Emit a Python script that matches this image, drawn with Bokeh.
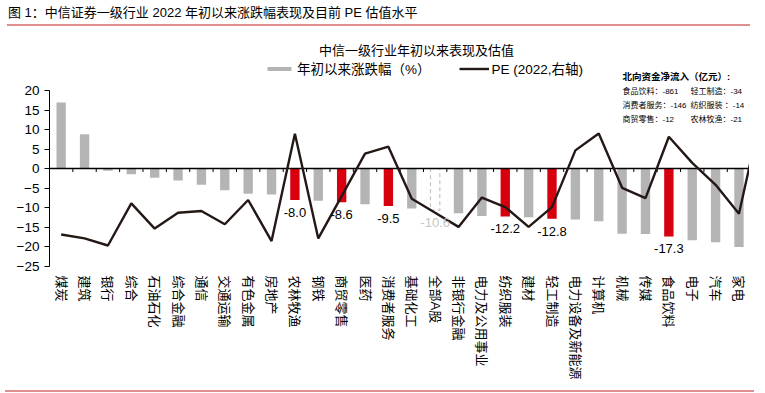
import math
import numpy as np
from bokeh.plotting import figure
from bokeh.models import (Range1d, FixedTicker, Label, Legend, LegendItem, Div,
                          ColumnDataSource)
from bokeh.layouts import column
from bokeh.core.properties import value
from bokeh.embed import file_html
from bokeh.resources import INLINE

# ---------------- data ----------------
categories = ["煤炭", "建筑", "银行", "综合", "石油石化", "综合金融", "通信", "交通运输",
              "有色金属", "房地产", "农林牧渔", "钢铁", "商贸零售", "医药", "消费者服务",
              "基础化工", "全部A股", "非银行金融", "电力及公用事业", "纺织服装", "建材",
              "轻工制造", "电力设备及新能源", "计算机", "机械", "传媒", "食品饮料", "电子",
              "汽车", "家电", "国防军工"]
# YTD change (%) -- the last category is cut off at the right edge of the picture
returns = [16.9, 8.8, -0.5, -1.4, -2.3, -3.0, -4.1, -5.5, -6.4, -6.6, -8.0, -8.2, -8.6,
           -9.1, -9.5, -10.2, -10.6, -11.4, -12.1, -12.2, -12.4, -12.8, -13.0, -13.4,
           -16.6, -16.7, -17.3, -18.3, -18.8, -20.0]
# PE (2022, right axis, hidden)
pe = [8.1, 6.5, 3.6, 20.8, 10.5, 17.0, 17.7, 12.3, 22.2, 5.4, 49.3, 6.5, 23.8, 41.2,
      44.0, 22.7, 17.0, 11.2, 23.2, 19.3, 11.2, 19.3, 42.5, 49.4, 27.2, 23.0, 48.1,
      37.4, 28.4, 16.6, 59.8]
highlighted = ["农林牧渔", "商贸零售", "消费者服务", "纺织服装", "轻工制造", "食品饮料"]
benchmark = "全部A股"
y_ticks = [-25, -20, -15, -10, -5, 0, 5, 10, 15, 20]

north_title = "北向资金净流入（亿元）:"
north_left_names = ["食品饮料", "消费者服务", "商贸零售"]
north_left_values = [-861, -146, -12]
north_right_names = ["轻工制造", "纺织服装 ", "农林牧渔"]
north_right_values = [-34, -14, -21]

header_text = "图 1：中信证券一级行业 2022 年初以来涨跌幅表现及目前 PE 估值水平"
chart_title = "中信一级行业年初以来表现及估值"
legend_bar = "年初以来涨跌幅（%）"
legend_line = "PE (2022,右轴)"

# ---------------- styles / layout ----------------
FONT = "Liberation Sans, Arial, Noto Sans CJK SC"
GRAY = "#b4b4b4"
RED = "#d7000f"
LINE = "#231815"
RULE = "#e08e8e"

FIG_H = 354
BORDER_BOTTOM = 119
PX_PER_UNIT = 176 / 45.0          # left-axis scale in pixels
FRAME_H = FIG_H - BORDER_BOTTOM   # frame reaches the top of the figure
y_top = y_ticks[0] + FRAME_H / PX_PER_UNIT
PE_LOW, PE_PER_UNIT = -5.0, 1.6   # hidden right axis: pe = PE_LOW + PE_PER_UNIT*(y - y_min)
pe_top = PE_LOW + PE_PER_UNIT * (y_top - y_ticks[0])

idx = list(range(len(categories)))
bar_idx = idx[:len(returns)]

def pick(cond):
    return [i for i in bar_idx if cond(categories[i])]

g_i = pick(lambda c: c not in highlighted and c != benchmark)
r_i = pick(lambda c: c in highlighted)
b_i = pick(lambda c: c == benchmark)

gray_src = ColumnDataSource(dict(x=g_i, top=[returns[i] for i in g_i]))
red_src = ColumnDataSource(dict(x=r_i, top=[returns[i] for i in r_i],
                                label=["%.1f" % returns[i] for i in r_i]))
bm_src = ColumnDataSource(dict(x=b_i, top=[returns[i] for i in b_i],
                               label=["%.1f" % returns[i] for i in b_i]))
pe_src = ColumnDataSource(dict(x=idx, pe=pe))
tick_src = ColumnDataSource(dict(x=[i + 0.5 for i in bar_idx]))

p = figure(width=749, height=FIG_H, output_backend="svg", toolbar_location=None,
           x_range=Range1d(-0.5, 29.45), y_range=Range1d(y_ticks[0], y_top),
           min_border_left=49, min_border_right=0, min_border_top=0,
           min_border_bottom=BORDER_BOTTOM)
p.extra_y_ranges = {"pe": Range1d(PE_LOW, pe_top)}
p.outline_line_color = None
p.grid.visible = False
p.background_fill_color = "white"
p.border_fill_color = "white"

# bars
r_gray = p.vbar(x="x", top="top", bottom=0, width=0.4, source=gray_src,
                fill_color=GRAY, line_color=None)
p.vbar(x="x", top="top", bottom=0, width=0.4, source=red_src,
       fill_color=RED, line_color=None)
p.vbar(x="x", top="top", bottom=0, width=0.4, source=bm_src,
       fill_alpha=0, line_color="#c4c4c4", line_dash="4 3", line_width=1.2)

# zero line with category-boundary ticks
p.hspan(y=[0], line_color="black", line_width=1.5)
p.segment(x0="x", x1="x", y0=0, y1=-0.85, source=tick_src, line_color="black", line_width=1)

# PE line
r_line = p.line(x="x", y="pe", source=pe_src, y_range_name="pe",
                line_color=LINE, line_width=2.4)

# value labels
p.text(x="x", y="top", text="label", source=red_src, text_align="center",
       text_baseline="top", y_offset=8, text_font=value("Liberation Sans"),
       text_font_size="13px", text_color="black")
p.text(x="x", y="top", text="label", source=bm_src, text_align="center",
       text_baseline="top", y_offset=8, text_font=value("Liberation Sans"),
       text_font_size="13px", text_color="#c4c4c4")

# axes
yax = p.yaxis[0]
yax.ticker = FixedTicker(ticks=y_ticks)
yax.bounds = (y_ticks[0], y_ticks[-1])
yax.axis_line_color = "black"
yax.major_tick_line_color = "black"
yax.major_tick_out = 5
yax.major_tick_in = 0
yax.minor_tick_line_color = None
yax.major_label_standoff = 5
yax.major_label_text_font = FONT
yax.major_label_text_font_size = "13.5px"
yax.major_label_text_color = "black"

xax = p.xaxis[0]
xax.ticker = FixedTicker(ticks=idx)
xax.major_label_overrides = {i: c for i, c in enumerate(categories)}
xax.major_label_orientation = -math.pi / 2
xax.axis_line_color = None
xax.major_tick_line_color = None
xax.minor_tick_line_color = None
xax.major_label_standoff = 3
xax.major_label_text_font = FONT
xax.major_label_text_font_size = "13px"
xax.major_label_text_color = "black"

# legend
legend = Legend(items=[LegendItem(label=legend_bar, renderers=[r_gray]),
                       LegendItem(label=legend_line, renderers=[r_line])],
                location=(215, 188), orientation="horizontal",
                glyph_width=30, glyph_height=5, label_height=16,
                label_standoff=3, spacing=28, padding=0, margin=0,
                border_line_color=None, background_fill_alpha=0,
                label_text_font=FONT, label_text_font_size="13.5px",
                label_text_color="black")
p.add_layout(legend)

# chart title
p.add_layout(Label(x=367, y=216, x_units="screen", y_units="screen", text=chart_title,
                   text_align="center", text_baseline="middle",
                   text_font=FONT, text_font_size="13px", text_color="black"))

# northbound box
p.add_layout(Label(x=573, y=190, x_units="screen", y_units="screen", text=north_title,
                   text_align="left", text_baseline="middle", text_font=FONT,
                   text_font_size="9.5px", text_font_style="bold", text_color="black"))
for k in range(len(north_left_names)):
    yy = 175 - 14 * k
    p.add_layout(Label(x=573, y=yy, x_units="screen", y_units="screen",
                       text="%s：%d" % (north_left_names[k], north_left_values[k]),
                       text_align="left", text_baseline="middle", text_font=FONT,
                       text_font_size="8px", text_color="black"))
    p.add_layout(Label(x=641, y=yy, x_units="screen", y_units="screen",
                       text="%s：%d" % (north_right_names[k], north_right_values[k]),
                       text_align="left", text_baseline="middle", text_font=FONT,
                       text_font_size="8px", text_color="black"))

header = Div(text=header_text, width=742, height=19,
             styles={"margin-left": "7px", "padding-left": "1px",
                     "border-bottom": "2px solid " + RULE,
                     "font-family": "'Liberation Sans', Arial, 'Noto Sans CJK SC'",
                     "font-size": "13px", "line-height": "16px", "color": "#000",
                     "white-space": "nowrap", "box-sizing": "content-box"})
footer = Div(text="", width=749, height=0,
             styles={"border-top": "2px solid " + RULE, "box-sizing": "content-box"})

layout = column(header, p, footer, spacing=0)
open("out.html", "w").write(file_html(layout, INLINE))
